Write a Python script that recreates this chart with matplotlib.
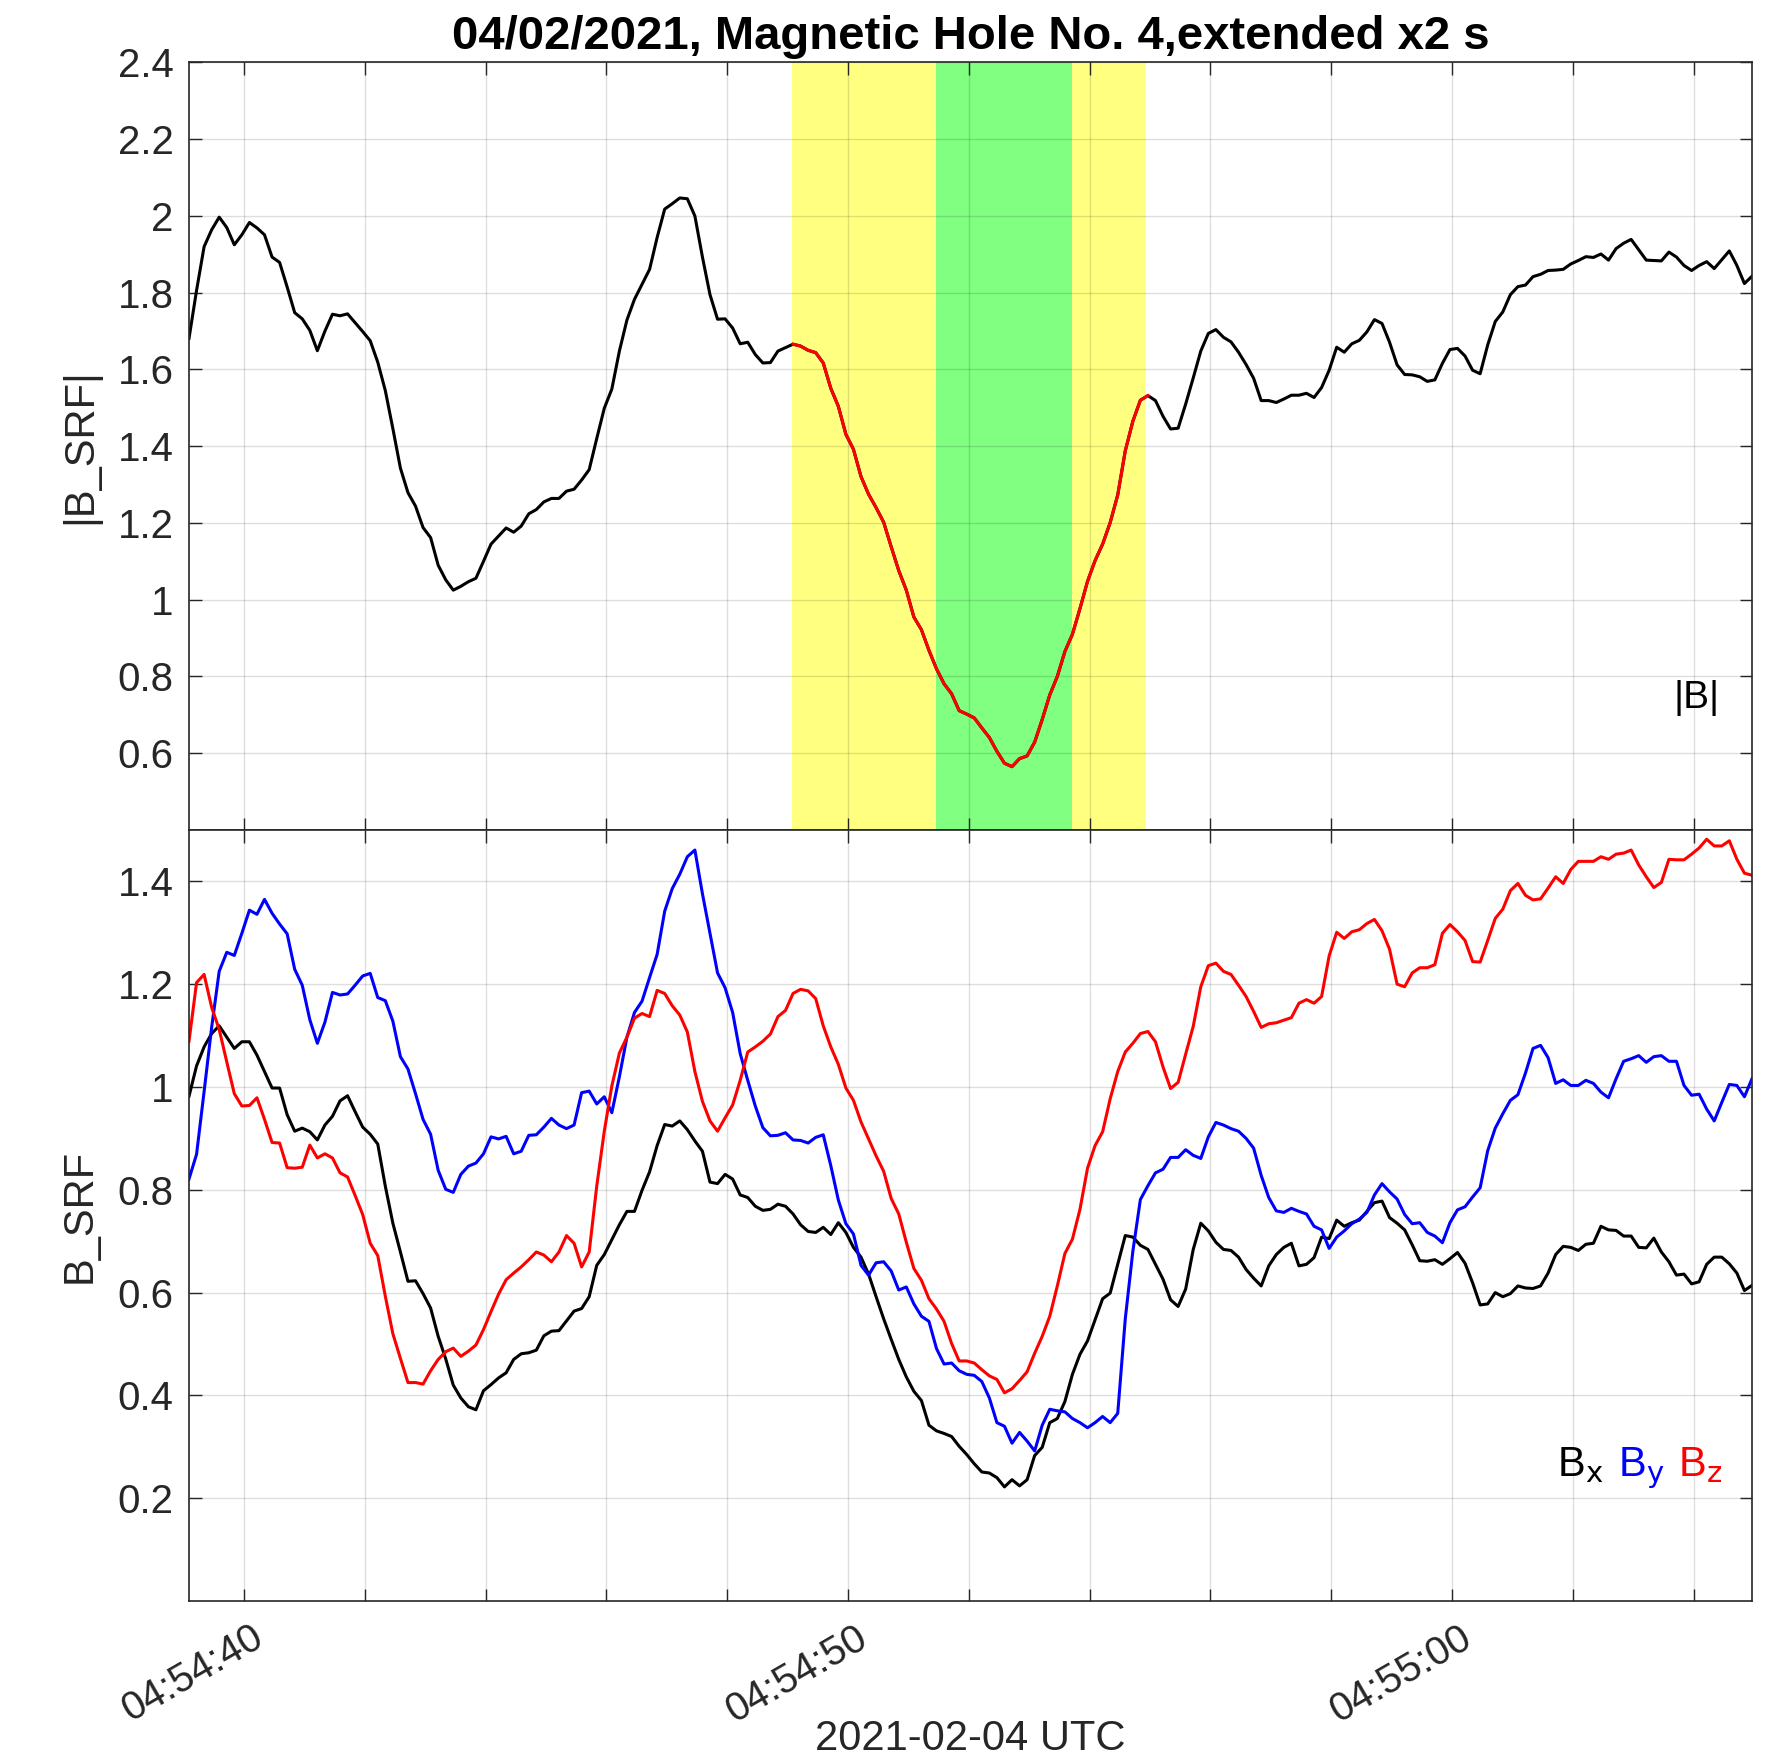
import numpy as np
import matplotlib
matplotlib.use('Agg')
import matplotlib.pyplot as plt
import matplotlib.dates as mdates
import matplotlib.transforms as mtransforms
from matplotlib.ticker import FixedLocator, FuncFormatter
from matplotlib.offsetbox import AnchoredOffsetbox, HPacker, TextArea
from datetime import datetime, timedelta

plt.rcParams['font.family'] = ['Liberation Sans', 'DejaVu Sans']
plt.rcParams['mathtext.default'] = 'regular'

DAY = datetime(2021, 2, 4, 4, 54, 0)
T0 = 39.09   # first sample, seconds after 04:54:00
DT = 0.125   # 8 samples per second

WIN = (49.08, 54.94)    # extended interval
HOLE = (51.45, 53.70)   # hole core

# |B| in SRF
B_abs = [
    1.681, 1.806, 1.920, 1.964, 1.997, 1.970, 1.925, 1.951, 1.983, 1.969,
    1.951, 1.893, 1.879, 1.815, 1.748, 1.732, 1.702, 1.649, 1.700, 1.744,
    1.740, 1.745, 1.722, 1.699, 1.675, 1.619, 1.545, 1.446, 1.343, 1.279,
    1.244, 1.188, 1.162, 1.090, 1.052, 1.025, 1.035, 1.047, 1.056, 1.100,
    1.145, 1.166, 1.187, 1.176, 1.192, 1.224, 1.235, 1.255, 1.264, 1.264,
    1.283, 1.288, 1.312, 1.339, 1.420, 1.499, 1.549, 1.648, 1.729, 1.783,
    1.822, 1.861, 1.944, 2.018, 2.032, 2.047, 2.045, 2.000, 1.893, 1.795,
    1.731, 1.732, 1.708, 1.667, 1.671, 1.639, 1.617, 1.618, 1.648, 1.657,
    1.666, 1.661, 1.650, 1.644, 1.617, 1.551, 1.504, 1.431, 1.392, 1.321,
    1.275, 1.240, 1.202, 1.138, 1.076, 1.025, 0.955, 0.922, 0.868, 0.820,
    0.781, 0.755, 0.711, 0.702,
    0.692, 0.666, 0.641, 0.605, 0.574, 0.565, 0.586, 0.593, 0.629, 0.688,
    0.752, 0.800, 0.865, 0.910, 0.977, 1.048, 1.102, 1.145, 1.201, 1.273,
    1.388, 1.465, 1.520, 1.532,
    1.519, 1.478, 1.445, 1.447, 1.510, 1.578, 1.648, 1.694, 1.704, 1.684,
    1.672, 1.645, 1.613, 1.577, 1.519, 1.519, 1.514, 1.523, 1.533, 1.533,
    1.538, 1.527, 1.553, 1.598, 1.658, 1.645, 1.667, 1.676, 1.698, 1.730,
    1.720, 1.671, 1.612, 1.587, 1.586, 1.581, 1.569, 1.573, 1.616, 1.652,
    1.655, 1.635, 1.598, 1.589, 1.664, 1.725, 1.750, 1.795, 1.816, 1.820,
    1.842, 1.848, 1.858, 1.859, 1.861, 1.875, 1.884, 1.894, 1.892, 1.901,
    1.885, 1.915, 1.929, 1.939, 1.912, 1.885, 1.884, 1.883, 1.906, 1.893,
    1.871, 1.858, 1.871, 1.881, 1.863, 1.886, 1.909, 1.871, 1.824, 1.843,
]

B_x = [
    0.982, 1.041, 1.078, 1.104, 1.119, 1.097, 1.075, 1.088, 1.088, 1.062,
    1.030, 0.998, 0.998, 0.946, 0.914, 0.920, 0.913, 0.897, 0.926, 0.943,
    0.973, 0.983, 0.952, 0.922, 0.908, 0.889, 0.807, 0.735, 0.679, 0.622,
    0.623, 0.598, 0.570, 0.515, 0.471, 0.420, 0.395, 0.378, 0.372, 0.409,
    0.421, 0.434, 0.444, 0.470, 0.481, 0.483, 0.488, 0.516, 0.525, 0.526,
    0.545, 0.564, 0.569, 0.592,
    0.653, 0.674, 0.703, 0.732, 0.758, 0.758, 0.799, 0.835, 0.886, 0.927,
    0.924, 0.934, 0.917, 0.895, 0.875, 0.815, 0.812, 0.830, 0.821, 0.790,
    0.785, 0.768, 0.760, 0.762, 0.772, 0.768, 0.753, 0.732, 0.719, 0.717,
    0.727, 0.713, 0.736, 0.717, 0.688, 0.669, 0.636, 0.592, 0.549, 0.509,
    0.470, 0.436, 0.408, 0.390, 0.342, 0.331, 0.326, 0.320, 0.301, 0.285,
    0.267, 0.251, 0.249,
    0.240, 0.222, 0.236, 0.224, 0.236, 0.283, 0.299, 0.347, 0.355, 0.388,
    0.441, 0.480, 0.506, 0.547, 0.588, 0.599, 0.655, 0.711, 0.708, 0.692,
    0.684, 0.655, 0.626, 0.586, 0.573, 0.607, 0.684, 0.735, 0.720, 0.698,
    0.684, 0.682, 0.669, 0.645, 0.628, 0.613, 0.652, 0.674, 0.688, 0.696,
    0.652, 0.655, 0.668, 0.708, 0.705, 0.741, 0.729, 0.736, 0.741, 0.758,
    0.775,
    0.778, 0.746, 0.735, 0.722, 0.693, 0.662, 0.661, 0.664, 0.655, 0.666,
    0.678, 0.657, 0.619, 0.576, 0.578, 0.600, 0.592, 0.598, 0.613, 0.609,
    0.608, 0.613, 0.638, 0.674, 0.690, 0.688, 0.682, 0.694, 0.696, 0.729,
    0.722, 0.721, 0.710, 0.710, 0.688, 0.687, 0.706, 0.679, 0.660, 0.634,
    0.636, 0.617, 0.621, 0.655, 0.669, 0.669, 0.656, 0.638, 0.604, 0.614,
]

B_y = [
    0.821, 0.869, 0.991, 1.116, 1.225, 1.262, 1.256, 1.299, 1.344, 1.336,
    1.365, 1.338, 1.317, 1.298, 1.229, 1.198, 1.131, 1.085, 1.126, 1.184,
    1.179, 1.181, 1.198, 1.216, 1.221, 1.174, 1.168, 1.128, 1.059, 1.035,
    0.987, 0.937, 0.908, 0.838, 0.801, 0.795, 0.830, 0.846, 0.852, 0.870,
    0.903, 0.899, 0.904, 0.870, 0.875, 0.906, 0.907, 0.922, 0.939, 0.926,
    0.919, 0.926, 0.989, 0.992,
    0.967, 0.981, 0.950, 1.020, 1.097, 1.145, 1.167, 1.213, 1.258, 1.342,
    1.386, 1.414, 1.448, 1.461, 1.376, 1.299, 1.222, 1.193, 1.145, 1.065,
    1.013, 0.963, 0.921, 0.905, 0.906, 0.911, 0.897, 0.896, 0.891, 0.902,
    0.907, 0.847, 0.780, 0.734, 0.714, 0.653, 0.634, 0.658, 0.660, 0.642,
    0.605, 0.611, 0.578, 0.554, 0.544, 0.491, 0.461, 0.463, 0.448, 0.441,
    0.439, 0.427, 0.395,
    0.347, 0.340, 0.307, 0.328, 0.311, 0.292, 0.342, 0.373, 0.370, 0.368,
    0.355, 0.347, 0.337, 0.347, 0.359, 0.347, 0.365, 0.549, 0.680, 0.781,
    0.808, 0.833, 0.840, 0.863, 0.863, 0.878, 0.867, 0.861, 0.903, 0.931,
    0.926, 0.919, 0.914, 0.900, 0.881, 0.828, 0.785, 0.759, 0.756, 0.764,
    0.758, 0.753, 0.729, 0.722, 0.686, 0.708, 0.720, 0.734, 0.743, 0.756,
    0.790,
    0.812, 0.796, 0.782, 0.752, 0.734, 0.736, 0.717, 0.710, 0.697, 0.736,
    0.761, 0.767, 0.786, 0.804, 0.876, 0.920, 0.948, 0.974, 0.985, 1.027,
    1.075, 1.081, 1.057, 1.007, 1.014, 1.003, 1.003, 1.013, 1.007, 0.990,
    0.979, 1.016, 1.050, 1.055, 1.061, 1.048, 1.059, 1.061, 1.050, 1.050,
    1.003, 0.984, 0.986, 0.957, 0.934, 0.970, 1.005, 1.003, 0.981, 1.016,
]

B_z = [
    1.089, 1.203, 1.219, 1.155, 1.112, 1.049, 0.987, 0.963, 0.964, 0.979,
    0.937, 0.892, 0.891, 0.843, 0.842, 0.844, 0.887, 0.862, 0.870, 0.862,
    0.833, 0.825, 0.789, 0.752, 0.696, 0.672, 0.593, 0.520, 0.472, 0.425,
    0.425, 0.422, 0.448, 0.470, 0.485, 0.492, 0.476, 0.486, 0.498, 0.528,
    0.563, 0.597, 0.625, 0.638, 0.650, 0.664, 0.679, 0.673, 0.660, 0.679,
    0.711, 0.696, 0.650, 0.679,
    0.807, 0.914, 1.002, 1.066, 1.097, 1.134, 1.143, 1.137, 1.188, 1.182,
    1.158, 1.140, 1.107, 1.030, 0.972, 0.934, 0.914, 0.940, 0.965, 1.013,
    1.068, 1.078, 1.089, 1.103, 1.137, 1.149, 1.182, 1.190, 1.187, 1.172,
    1.119, 1.078, 1.044, 0.998, 0.974, 0.932, 0.899, 0.866, 0.836, 0.783,
    0.753, 0.698, 0.647, 0.624, 0.588, 0.568, 0.544, 0.501, 0.467, 0.467,
    0.463, 0.450, 0.438,
    0.431, 0.405, 0.413, 0.429, 0.446, 0.482, 0.515, 0.554, 0.613, 0.676,
    0.704, 0.762, 0.842, 0.886, 0.913, 0.977, 1.030, 1.068, 1.085, 1.104,
    1.108, 1.088, 1.039, 0.997, 1.009, 1.064, 1.118, 1.195, 1.236, 1.241,
    1.225, 1.219, 1.198, 1.176, 1.147, 1.116, 1.123, 1.125, 1.130, 1.135,
    1.163, 1.170, 1.163, 1.176, 1.255, 1.301, 1.289, 1.302, 1.306, 1.318,
    1.326,
    1.304, 1.268, 1.200, 1.195, 1.222, 1.232, 1.232, 1.238, 1.299, 1.316,
    1.302, 1.285, 1.244, 1.243, 1.285, 1.328, 1.346, 1.382, 1.396, 1.373,
    1.364, 1.366, 1.387, 1.409, 1.396, 1.423, 1.439, 1.439, 1.439, 1.448,
    1.443, 1.453, 1.455, 1.461, 1.432, 1.409, 1.388, 1.398, 1.443, 1.442,
    1.442, 1.453, 1.465, 1.482, 1.469, 1.469, 1.479, 1.443, 1.416, 1.412,
]

AX_GRAY = '#262626'
LW = 2.2


def tnum(sec):
    return mdates.date2num(DAY + timedelta(seconds=float(sec)))


def fmt_time(x, pos):
    s = int(round((x - tnum(0)) * 86400))
    if s % 10:
        return ''
    return (DAY + timedelta(seconds=s)).strftime('%H:%M:%S')


def style_axes(ax):
    ax.tick_params(direction='in', length=9, width=1.0, colors=AX_GRAY,
                   labelsize=29, pad=11, top=True, right=True)
    for sp in ax.spines.values():
        sp.set_color(AX_GRAY)
        sp.set_linewidth(1.2)
    ax.grid(True, color='#000000', alpha=0.13, linewidth=1.0)
    ax.yaxis.set_major_formatter(FuncFormatter(lambda v, p: f'{v:g}'))


secs = T0 + DT * np.arange(len(B_abs))
t = np.array([tnum(s) for s in secs])
b_abs = np.array(B_abs)

fig = plt.figure(figsize=(17.83, 17.60), dpi=100)
ax1 = fig.add_axes([0.1060, 0.52841, 0.8766, 0.43608])
ax2 = fig.add_axes([0.1060, 0.09034, 0.8766, 0.43807], sharex=ax1)

# top panel: |B| with the hole interval highlighted
ax1.axvspan(tnum(WIN[0]), tnum(WIN[1]), color='#FFFF80', lw=0, zorder=0.5)
ax1.axvspan(tnum(HOLE[0]), tnum(HOLE[1]), color='#80FF80', lw=0, zorder=0.6)
ax1.plot(t, b_abs, color='k', lw=LW)
inside = (secs >= WIN[0] - DT / 2) & (secs <= WIN[1] + DT / 2)
ax1.plot(t[inside], b_abs[inside], color='#FF0000', lw=LW)
ax1.set_ylim(0.4, 2.4)
ax1.yaxis.set_major_locator(FixedLocator(np.arange(0.6, 2.41, 0.2)))
ax1.set_ylabel('|B_SRF|', fontsize=30, color=AX_GRAY)
ax1.text(0.9795, 0.172, '|B|', transform=ax1.transAxes, ha='right',
         va='center', fontsize=28, color='k')
ax1.set_title('04/02/2021, Magnetic Hole No. 4,extended x2 s',
              fontsize=34, fontweight='bold', pad=10)
style_axes(ax1)
ax1.tick_params(labelbottom=False)

# bottom panel: components
ax2.plot(t, B_x, color='k', lw=LW)
ax2.plot(t, B_y, color='#0000FF', lw=LW)
ax2.plot(t, B_z, color='#FF0000', lw=LW)
ax2.set_ylim(0.0, 1.5)
ax2.yaxis.set_major_locator(FixedLocator(np.arange(0.2, 1.41, 0.2)))
ax2.set_ylabel('B_SRF', fontsize=30, color=AX_GRAY)
style_axes(ax2)

parts = [TextArea(r'B$_{\mathrm{%s}}$' % c, textprops=dict(color=col, fontsize=30))
         for c, col in [('x', 'k'), ('y', '#0000FF'), ('z', '#FF0000')]]
box = HPacker(children=parts, align='baseline', pad=0, sep=10)
anch = AnchoredOffsetbox(loc='center right', child=box, frameon=False,
                         bbox_to_anchor=(0.981, 0.172),
                         bbox_transform=ax2.transAxes, borderpad=0, pad=0)
ax2.add_artist(anch)

ax2.set_xlim(t[0], t[-1])
ax2.xaxis.set_major_locator(mdates.SecondLocator(bysecond=range(0, 60, 2)))
ax2.xaxis.set_major_formatter(FuncFormatter(fmt_time))
ax2.tick_params(axis='x', labelsize=29)
shift = mtransforms.ScaledTranslation(7 / 100, -2 / 100, fig.dpi_scale_trans)
for lab in ax2.get_xticklabels():
    lab.set_rotation(30)
    lab.set_ha('right')
    lab.set_rotation_mode('anchor')
    lab.set_transform(lab.get_transform() + shift)
ax2.set_xlabel('2021-02-04 UTC', fontsize=30, color=AX_GRAY)
ax2.xaxis.set_label_coords(0.5, -0.153)

for ax in (ax1, ax2):
    ax.yaxis.set_label_coords(-0.057, 0.5)

fig.savefig('out.png', dpi=100)
